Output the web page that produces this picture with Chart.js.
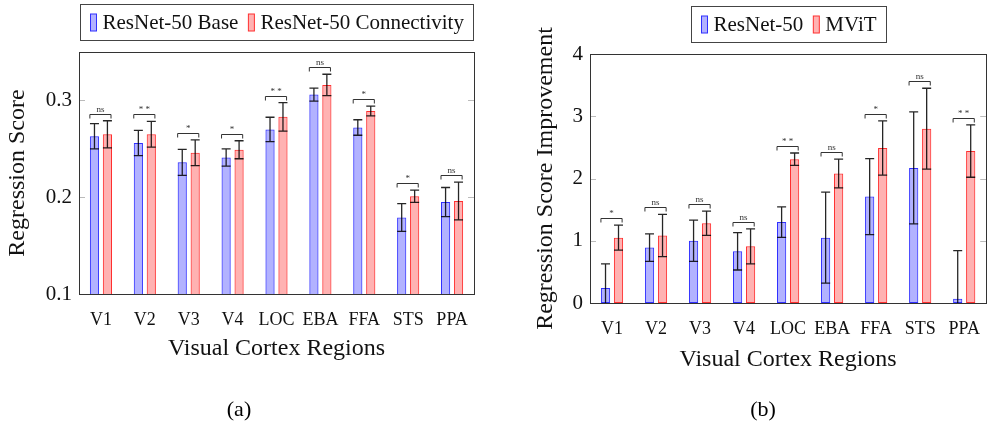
<!DOCTYPE html>
<html>
<head>
<meta charset="utf-8">
<script src="https://cdn.jsdelivr.net/npm/chart.js@4"></script>
<style>
  body { margin: 0; background: #fff; }
  #wrap { position: relative; width: 995px; height: 423px; overflow: hidden; }
  canvas { position: absolute; top: 0; }
  .cap { position: absolute; top: 396px; font: 22px "Liberation Serif", serif; transform: translateX(-50%); }
</style>
</head>
<body>
<div id="wrap">
  <canvas id="chartA" width="490" height="423" style="left:0"></canvas>
  <canvas id="chartB" width="495" height="423" style="left:500px"></canvas>
  <div class="cap" style="left:239px">(a)</div>
  <div class="cap" style="left:763px">(b)</div>
</div>
<script>
const regions = ["V1", "V2", "V3", "V4", "LOC", "EBA", "FFA", "STS", "PPA"];

// (a) regression scores
const baseScore = [0.263, 0.256, 0.236, 0.241, 0.270, 0.306, 0.272, 0.179, 0.195];
const baseErr   = [0.013, 0.013, 0.0135, 0.009, 0.0126, 0.0067, 0.008, 0.0143, 0.015];
const connScore = [0.265, 0.265, 0.246, 0.249, 0.283, 0.316, 0.289, 0.201, 0.196];
const connErr   = [0.014, 0.0133, 0.0133, 0.0093, 0.0147, 0.011, 0.005, 0.0063, 0.0195];
const sigA      = ["ns", "* *", "*", "*", "* *", "ns", "*", "*", "ns"];
const yTicksA   = [0.1, 0.2, 0.3];

// (b) regression score improvement
const resnetImp = [0.24, 0.89, 1.0, 0.83, 1.30, 1.05, 1.71, 2.17, 0.07];
const resnetErr = [0.39, 0.22, 0.33, 0.30, 0.245, 0.73, 0.61, 0.90, 0.77];
const mvitImp   = [1.05, 1.085, 1.28, 0.91, 2.31, 2.08, 2.49, 2.80, 2.44];
const mvitErr   = [0.20, 0.34, 0.195, 0.28, 0.10, 0.23, 0.435, 0.65, 0.42];
const sigB      = ["*", "ns", "ns", "ns", "* *", "ns", "*", "ns", "* *"];
const yTicksB   = [0, 1, 2, 3, 4];

const SERIF = "'Liberation Serif', 'Times New Roman', serif";
const BLUE_FILL = "rgba(0,0,255,0.3)", BLUE_LINE = "#3030ff";
const RED_FILL = "rgba(255,0,0,0.3)", RED_LINE = "#ff3030";

// error bars, significance brackets, frame, inner ticks, legend box
const extras = {
  id: "extras",
  afterDatasetsDraw(chart, args, opts) {
    const ctx = chart.ctx, y = chart.scales.y, area = chart.chartArea;
    const metas = [chart.getDatasetMeta(0), chart.getDatasetMeta(1)];
    ctx.save();
    ctx.beginPath();
    ctx.rect(area.left, area.top, area.right - area.left, area.bottom - area.top);
    ctx.clip();
    ctx.strokeStyle = "rgba(0,0,0,0.85)";
    ctx.lineWidth = 1.3;
    metas.forEach((meta, d) => {
      const vals = chart.data.datasets[d].data, errs = opts.errs[d];
      meta.data.forEach((bar, i) => {
        const hi = y.getPixelForValue(vals[i] + errs[i]);
        const lo = y.getPixelForValue(vals[i] - errs[i]);
        ctx.beginPath();
        ctx.moveTo(bar.x, hi); ctx.lineTo(bar.x, lo);
        ctx.moveTo(bar.x - 4.5, hi); ctx.lineTo(bar.x + 4.5, hi);
        ctx.moveTo(bar.x - 4.5, lo); ctx.lineTo(bar.x + 4.5, lo);
        ctx.stroke();
      });
    });
    ctx.restore();

    // brackets
    ctx.save();
    ctx.strokeStyle = "#333";
    ctx.lineWidth = 1;
    ctx.fillStyle = "#333";
    ctx.font = "9px " + SERIF;
    ctx.textAlign = "center";
    ctx.textBaseline = "middle";
    regions.forEach((r, i) => {
      const a = metas[0].data[i], b = metas[1].data[i];
      const top = Math.max(chart.data.datasets[0].data[i] + opts.errs[0][i],
                           chart.data.datasets[1].data[i] + opts.errs[1][i]);
      const by = Math.round(y.getPixelForValue(top) - 7) + 0.5;
      const x0 = a.x - a.width / 2, x1 = b.x + b.width / 2 - 1;
      ctx.beginPath();
      ctx.moveTo(x0, by + 4); ctx.lineTo(x0, by); ctx.lineTo(x1, by); ctx.lineTo(x1, by + 4);
      ctx.stroke();
      ctx.fillText(opts.sig[i], (x0 + x1) / 2, by - 5);
    });
    ctx.restore();
  },
  afterDraw(chart) {
    const ctx = chart.ctx, y = chart.scales.y, area = chart.chartArea;
    ctx.save();
    // inner ticks
    ctx.strokeStyle = "#bbb";
    ctx.lineWidth = 1;
    y.ticks.forEach(t => {
      const py = Math.round(y.getPixelForValue(t.value)) + 0.5;
      ctx.beginPath();
      ctx.moveTo(area.left, py); ctx.lineTo(area.left + 6, py);
      ctx.moveTo(area.right - 6, py); ctx.lineTo(area.right, py);
      ctx.stroke();
    });
    // frame
    ctx.strokeStyle = "#333";
    ctx.strokeRect(Math.round(area.left) + 0.5, Math.round(area.top) + 0.5,
                   Math.round(area.right - area.left), Math.round(area.bottom - area.top));

    // legend
    ctx.font = "21px " + SERIF;
    const items = chart.data.datasets.map(ds => ({ ds, w: ctx.measureText(ds.label).width }));
    const pad = 10, iconW = 6, gap = 6, itemGap = 10;
    let total = pad * 2 + items.reduce((s, it) => s + iconW + gap + it.w, 0) + itemGap * (items.length - 1);
    const bx = Math.round((area.left + area.right) / 2 - total / 2) + 0.5;
    const bTop = Math.round(area.top - 48) + 0.5, bH = 36;
    ctx.strokeStyle = "#444";
    ctx.strokeRect(bx, bTop, Math.round(total), bH);
    let x = bx + pad;
    const cy = bTop + bH / 2;
    ctx.textBaseline = "middle";
    ctx.textAlign = "left";
    items.forEach(it => {
      ctx.fillStyle = "#fff";
      ctx.fillRect(x, cy - 8.5, iconW, 17);
      ctx.fillStyle = it.ds.backgroundColor;
      ctx.fillRect(x, cy - 8.5, iconW, 17);
      ctx.strokeStyle = it.ds.borderColor;
      ctx.strokeRect(x, cy - 8.5, iconW, 17);
      x += iconW + gap;
      ctx.fillStyle = "#111";
      ctx.fillText(it.ds.label, x, cy + 1);
      x += it.w + itemGap;
    });
    ctx.restore();
  }
};

function makeChart(id, cfg) {
  return new Chart(id, {
    type: "bar",
    data: {
      labels: regions,
      datasets: [
        { label: cfg.names[0], data: cfg.vals[0], backgroundColor: BLUE_FILL, borderColor: BLUE_LINE,
          borderWidth: 1, borderSkipped: false },
        { label: cfg.names[1], data: cfg.vals[1], backgroundColor: RED_FILL, borderColor: RED_LINE,
          borderWidth: 1, borderSkipped: false }
      ]
    },
    options: {
      responsive: false,
      animation: false,
      devicePixelRatio: 1,
      categoryPercentage: 0.59,
      barPercentage: 0.71,
      layout: { padding: cfg.padding },
      plugins: {
        legend: { display: false },
        tooltip: { enabled: false },
        extras: { errs: cfg.errs, sig: cfg.sig }
      },
      scales: {
        x: {
          grid: { display: false, drawTicks: false },
          border: { display: false },
          ticks: { color: "#111", font: { family: SERIF, size: 18 }, padding: 15 },
          title: { display: true, text: "Visual Cortex Regions", color: "#111",
                   font: { family: SERIF, size: 24 }, padding: { bottom: cfg.xTitlePad } },
          afterFit: s => { s.height = cfg.xHeight; }
        },
        y: {
          min: cfg.min, max: cfg.max,
          grid: { display: false, drawTicks: false },
          border: { display: false },
          afterBuildTicks: s => { s.ticks = cfg.ticks.map(v => ({ value: v })); },
          ticks: { color: "#111", font: { family: SERIF, size: 21 }, padding: 7,
                   callback: cfg.fmt },
          title: { display: true, text: cfg.yTitle, color: "#111",
                   font: { family: SERIF, size: 24 }, padding: { top: cfg.yTitlePad } },
          afterFit: s => { s.width = cfg.yWidth; }
        }
      }
    },
    plugins: [extras]
  });
}

makeChart("chartA", {
  names: ["ResNet-50 Base", "ResNet-50 Connectivity"],
  vals: [baseScore, connScore], errs: [baseErr, connErr], sig: sigA,
  min: 0.1, max: 0.35, ticks: yTicksA, fmt: v => v.toFixed(1),
  yTitle: "Regression Score",
  padding: { top: 52, left: 0, right: 16, bottom: 0 },
  yWidth: 79, xHeight: 129, xTitlePad: 60, yTitlePad: 3
});

makeChart("chartB", {
  names: ["ResNet-50", "MViT"],
  vals: [resnetImp, mvitImp], errs: [resnetErr, mvitErr], sig: sigB,
  min: 0, max: 4, ticks: yTicksB, fmt: v => String(v),
  yTitle: "Regression Score Improvement",
  padding: { top: 54, left: 0, right: 2, bottom: 0 },
  yWidth: 90, xHeight: 120, xTitlePad: 49, yTitlePad: 31
});
</script>
</body>
</html>
